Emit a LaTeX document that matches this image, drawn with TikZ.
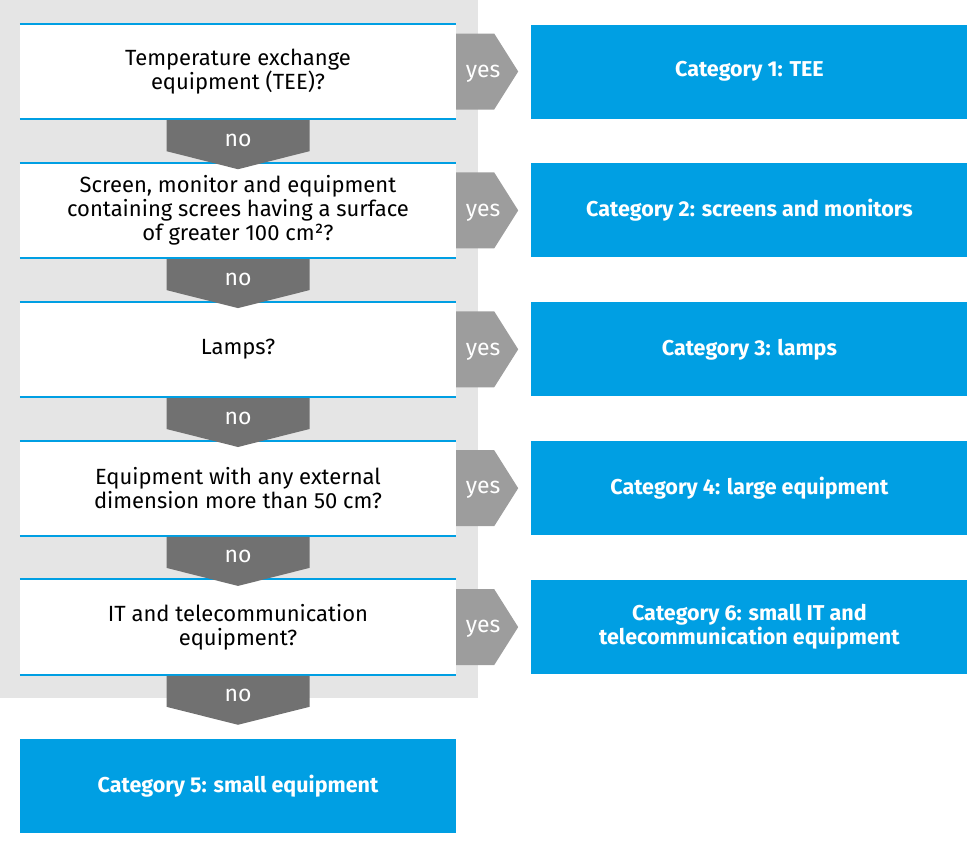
\documentclass[tikz,border=0pt]{standalone}
\usepackage{fontspec}
\setmainfont{Fira Sans}
\usetikzlibrary{calc,positioning}
\definecolor{catblue}{HTML}{009FE3}
\definecolor{bggray}{HTML}{E5E5E5}
\definecolor{nogray}{HTML}{717171}
\definecolor{yesgray}{HTML}{9D9D9D}

\begin{document}
\begin{tikzpicture}[x=1pt,y=-1pt,
    question/.style={fill=white, minimum width=436pt, minimum height=95pt, inner sep=0pt, align=center, font=\fontsize{22}{24}\selectfont},
    category/.style={fill=catblue, text=white, minimum width=436pt, minimum height=94pt, inner sep=0pt, align=center, font=\fontsize{21.5}{24}\selectfont\bfseries},
    rule/.style={catblue, line width=2pt},
    answer/.style={text=white, inner sep=0pt, font=\fontsize{23}{24}\selectfont}]
    \useasboundingbox (0,0) rectangle (967,847);
    \fill [bggray] (0,0) rectangle (478,698);

    % questions
    \node [question] (q1) at (238,71.5) {Temperature exchange\\equipment (TEE)?};
    \node [question, below=43.5pt of q1] (q2) {Screen, monitor and equipment\\containing screes having a surface\\of greater 100 cm²?};
    \node [question, below=43.5pt of q2] (q3) {Lamps?};
    \node [question, below=43.5pt of q3] (q4) {Equipment with any external\\dimension more than 50 cm?};
    \node [question, below=43.5pt of q4] (q5) {IT and telecommunication\\equipment?};

    \draw [rule] (q1.north west) -- (q1.north east);
    \draw [rule] (q1.south west) -- (q1.south east);
    \draw [rule] (q2.north west) -- (q2.north east);
    \draw [rule] (q2.south west) -- (q2.south east);
    \draw [rule] (q3.north west) -- (q3.north east);
    \draw [rule] (q3.south west) -- (q3.south east);
    \draw [rule] (q4.north west) -- (q4.north east);
    \draw [rule] (q4.south west) -- (q4.south east);
    \draw [rule] (q5.north west) -- (q5.north east);
    \draw [rule] (q5.south west) -- (q5.south east);

    % categories
    \node [category, right=75pt of q1] (c1) {Category 1: TEE};
    \node [category, right=75pt of q2] (c2) {Category 2: screens and monitors};
    \node [category, right=75pt of q3] (c3) {Category 3: lamps};
    \node [category, right=75pt of q4] (c4) {Category 4: large equipment};
    \node [category, right=75pt of q5] (c6) {Category 6: small IT and\\telecommunication equipment};
    \node [category, below=64pt of q5] (c5) {Category 5: small equipment};

    % no arrows
    \fill [nogray] ($(q1.south)+(-71.5,1)$) -- ($(q1.south)+(71.5,1)$) -- ($(q1.south)+(71.5,32)$) -- ($(q1.south)+(0,50)$) -- ($(q1.south)+(-71.5,32)$) -- cycle;
    \fill [nogray] ($(q2.south)+(-71.5,1)$) -- ($(q2.south)+(71.5,1)$) -- ($(q2.south)+(71.5,32)$) -- ($(q2.south)+(0,50)$) -- ($(q2.south)+(-71.5,32)$) -- cycle;
    \fill [nogray] ($(q3.south)+(-71.5,1)$) -- ($(q3.south)+(71.5,1)$) -- ($(q3.south)+(71.5,32)$) -- ($(q3.south)+(0,50)$) -- ($(q3.south)+(-71.5,32)$) -- cycle;
    \fill [nogray] ($(q4.south)+(-71.5,1)$) -- ($(q4.south)+(71.5,1)$) -- ($(q4.south)+(71.5,32)$) -- ($(q4.south)+(0,50)$) -- ($(q4.south)+(-71.5,32)$) -- cycle;
    \fill [nogray] ($(q5.south)+(-71.5,1)$) -- ($(q5.south)+(71.5,1)$) -- ($(q5.south)+(71.5,32)$) -- ($(q5.south)+(0,50)$) -- ($(q5.south)+(-71.5,32)$) -- cycle;
    \node [answer] (no1) at ($(q1.south)+(0,21)$) {no};
    \node [answer] (no2) at ($(q2.south)+(0,21)$) {no};
    \node [answer] (no3) at ($(q3.south)+(0,21)$) {no};
    \node [answer] (no4) at ($(q4.south)+(0,21)$) {no};
    \node [answer] (no5) at ($(q5.south)+(0,21)$) {no};

    % yes arrows
    \fill [yesgray] ($(q1.east)+(0,-38)$) -- ($(q1.east)+(38,-38)$) -- ($(q1.east)+(62,0)$) -- ($(q1.east)+(38,38)$) -- ($(q1.east)+(0,38)$) -- cycle;
    \fill [yesgray] ($(q2.east)+(0,-38)$) -- ($(q2.east)+(38,-38)$) -- ($(q2.east)+(62,0)$) -- ($(q2.east)+(38,38)$) -- ($(q2.east)+(0,38)$) -- cycle;
    \fill [yesgray] ($(q3.east)+(0,-38)$) -- ($(q3.east)+(38,-38)$) -- ($(q3.east)+(62,0)$) -- ($(q3.east)+(38,38)$) -- ($(q3.east)+(0,38)$) -- cycle;
    \fill [yesgray] ($(q4.east)+(0,-38)$) -- ($(q4.east)+(38,-38)$) -- ($(q4.east)+(62,0)$) -- ($(q4.east)+(38,38)$) -- ($(q4.east)+(0,38)$) -- cycle;
    \fill [yesgray] ($(q5.east)+(0,-38)$) -- ($(q5.east)+(38,-38)$) -- ($(q5.east)+(62,0)$) -- ($(q5.east)+(38,38)$) -- ($(q5.east)+(0,38)$) -- cycle;
    \node [answer] (yes1) at ($(q1.east)+(27,2)$) {yes};
    \node [answer] (yes2) at ($(q2.east)+(27,2)$) {yes};
    \node [answer] (yes3) at ($(q3.east)+(27,2)$) {yes};
    \node [answer] (yes4) at ($(q4.east)+(27,2)$) {yes};
    \node [answer] (yes5) at ($(q5.east)+(27,2)$) {yes};
\end{tikzpicture}
\end{document}
